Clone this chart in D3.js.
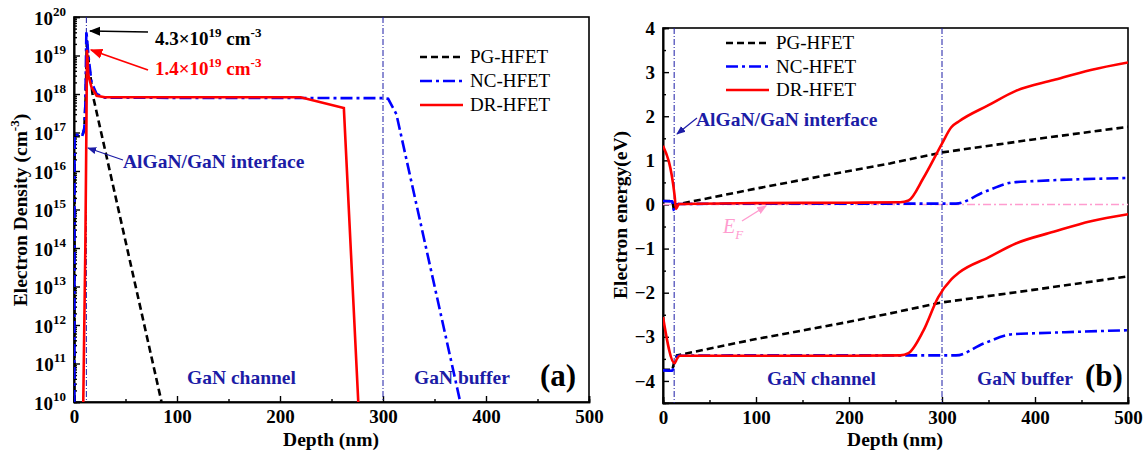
<!DOCTYPE html>
<html lang="en">
<head>
<meta charset="utf-8">
<title>Electron density and band diagram</title>
<script src="https://cdn.jsdelivr.net/npm/d3@7"></script>
<style>
  body { margin: 0; background: #fff; }
  svg text { font-family: "Liberation Serif", "Times New Roman", serif; }
</style>
</head>
<body>
<script>
// ---- data ----
var depthTicks = [0, 100, 200, 300, 400, 500];
var densityExps = [10, 11, 12, 13, 14, 15, 16, 17, 18, 19, 20];
var energyTicks = [-4, -3, -2, -1, 0, 1, 2, 3, 4];
var refDepths = [12, 300];

var seriesNames = ["PG-HFET", "NC-HFET", "DR-HFET"];

// (a) electron density, [depth nm, cm^-3]
var pgDensity = [[0.4, 1e10], [0.6, 8e16], [8, 8e16], [10, 1.2e17], [11.5, 1e18], [12.5, 2.5e19], [14, 8e18], [18, 1e18], [85, 1e10]];
var ncDensity = [[0.3, 1e10], [0.5, 9e16], [8, 8e16], [10, 1.3e17], [11, 5e17], [12, 4.3e19], [14, 1e19], [17, 2e18], [22, 1e18], [30, 8e17], [300, 7.8e17], [305, 7.5e17], [313, 3e17], [375, 1e10]];
var drDensity = [[9, 1e10], [11, 1e14], [12, 1e17], [12.6, 1.4e19], [14, 3e18], [17, 1.5e18], [22, 9e17], [30, 8.2e17], [220, 8.2e17], [262, 4.3e17], [276, 1e10]];

// (b) band edges, [depth nm, eV]
var pgEc = [[0, 0.08], [10, 0.08], [12, -0.15], [15, 0], [100, 0.36], [200, 0.76], [244, 0.93], [300, 1.18], [400, 1.48], [500, 1.76]];
var pgEv = [[0, -3.75], [10, -3.75], [12, -3.58], [15, -3.42], [100, -3.05], [200, -2.66], [244, -2.47], [300, -2.22], [400, -1.93], [500, -1.63]];
var ncEc = [[0, 0.08], [10, 0.07], [12, -0.15], [16, 0.01], [100, 0.02], [200, 0.02], [315, 0.02], [345, 0.28], [376, 0.5], [400, 0.53], [500, 0.6]];
var ncEv = [[0, -3.76], [10, -3.77], [12, -3.6], [16, -3.43], [100, -3.42], [200, -3.42], [315, -3.42], [345, -3.15], [376, -2.94], [400, -2.92], [500, -2.85]];
var drEc = [[0, 1.33], [12.5, 0.2], [14, -0.1], [17, 0.01], [100, 0.03], [200, 0.04], [255, 0.05], [264, 0.09], [280, 0.6], [300, 1.38], [310, 1.75], [318, 1.88], [350, 2.25], [380, 2.58], [420, 2.82], [460, 3.05], [500, 3.22]];
var drEv = [[0, -2.55], [12.5, -3.6], [15, -3.5], [18, -3.43], [100, -3.43], [200, -3.43], [255, -3.42], [264, -3.37], [280, -2.86], [296, -2.1], [310, -1.7], [318, -1.55], [350, -1.2], [380, -0.88], [420, -0.62], [460, -0.38], [500, -0.22]];
var fermiLevel = [[0, 0], [500, 0]];

// ---- layout ----
var width = 1148, height = 454;
var serif = '"Liberation Serif", "Times New Roman", serif';
var navy = "#1c1ca6";
var colors = { pg: "#000000", nc: "#0000ff", dr: "#ff0000" };
var dashes = { pg: "7,4", nc: "12,4,3,4", dr: null };

var svg = d3.select("body").append("svg").attr("width", width).attr("height", height);

var defs = svg.append("defs");
function marker(id, color) {
  defs.append("marker").attr("id", id)
    .attr("viewBox", "0 0 10 10").attr("refX", 9).attr("refY", 5)
    .attr("markerWidth", 7).attr("markerHeight", 7).attr("orient", "auto")
    .append("path").attr("d", "M0,1 L10,5 L0,9 Z").attr("fill", color);
}
marker("arrBlack", "#000");
marker("arrRed", "#ff0000");
marker("arrNavy", navy);
marker("arrPink", "#ff9ccf");

function clip(id, x0, y0, x1, y1) {
  defs.append("clipPath").attr("id", id).append("rect")
    .attr("x", x0).attr("y", y0).attr("width", x1 - x0).attr("height", y1 - y0);
}

// ================= panel (a) =================
var xa = d3.scaleLinear().domain([0, 500]).range([74, 589]);
var ya = d3.scaleLog().domain([1e10, 1e20]).range([402, 17]);
clip("clipA", 74, 17, 589, 402);

var gA = svg.append("g");

// x axis
gA.append("g").attr("transform", "translate(0,402)")
  .call(d3.axisBottom(xa).tickValues(d3.range(50, 500, 100)).tickSize(-3).tickFormat(""));
gA.append("g").attr("transform", "translate(0,402)")
  .call(d3.axisBottom(xa).tickValues(depthTicks).tickSize(-6).tickPadding(8));

// y axis (log) with minor ticks
var minorA = [];
densityExps.slice(0, -1).forEach(function (e) {
  for (var k = 2; k <= 9; k++) minorA.push(k * Math.pow(10, e));
});
gA.append("g").attr("transform", "translate(74,0)")
  .call(d3.axisLeft(ya).tickValues(minorA).tickSize(-3).tickFormat(""));
var yAxA = gA.append("g").attr("transform", "translate(74,0)")
  .call(d3.axisLeft(ya).tickValues(densityExps.map(function (e) { return Math.pow(10, e); }))
    .tickSize(-6).tickFormat(""));
yAxA.selectAll(".tick").each(function (d) {
  var t = d3.select(this).append("text").attr("x", -8).attr("y", 7)
    .attr("text-anchor", "end").attr("fill", "#000");
  t.append("tspan").text("10");
  t.append("tspan").attr("dy", -9).attr("font-size", 13).text(Math.round(Math.log10(d)));
});

gA.append("rect").attr("x", 74).attr("y", 17).attr("width", 515).attr("height", 385)
  .attr("fill", "none").attr("stroke", "#000").attr("stroke-width", 1.6);

// reference lines
gA.selectAll(".ref").data(refDepths).enter().append("line")
  .attr("x1", function (d) { return xa(d); }).attr("x2", function (d) { return xa(d); })
  .attr("y1", 17).attr("y2", 402)
  .attr("stroke", navy).attr("stroke-width", 1).attr("stroke-dasharray", "6,2,1,2");

var lineA = d3.line().x(function (d) { return xa(d[0]); }).y(function (d) { return ya(d[1]); });
var curvesA = [["pg", pgDensity], ["nc", ncDensity], ["dr", drDensity]];
gA.append("g").attr("clip-path", "url(#clipA)").selectAll("path").data(curvesA).enter().append("path")
  .attr("d", function (d) { return lineA(d[1]); })
  .attr("fill", "none")
  .attr("stroke", function (d) { return colors[d[0]]; })
  .attr("stroke-width", 2.6)
  .attr("stroke-dasharray", function (d) { return dashes[d[0]]; });

// ================= panel (b) =================
var xb = d3.scaleLinear().domain([0, 500]).range([663, 1128]);
var yb = d3.scaleLinear().domain([-4.5, 4]).range([403, 28]);
clip("clipB", 663, 28, 1128, 403);

var gB = svg.append("g");
gB.append("g").attr("transform", "translate(0,403)")
  .call(d3.axisBottom(xb).tickValues(d3.range(50, 500, 100)).tickSize(-3).tickFormat(""));
gB.append("g").attr("transform", "translate(0,403)")
  .call(d3.axisBottom(xb).tickValues(depthTicks).tickSize(-6).tickPadding(8));
gB.append("g").attr("transform", "translate(663,0)")
  .call(d3.axisLeft(yb).tickValues(d3.range(-3.5, 4, 1)).tickSize(-3).tickFormat(""));
gB.append("g").attr("transform", "translate(663,0)")
  .call(d3.axisLeft(yb).tickValues(energyTicks).tickSize(-6).tickPadding(8).tickFormat(d3.format("d")));

gB.append("rect").attr("x", 663).attr("y", 28).attr("width", 465).attr("height", 375)
  .attr("fill", "none").attr("stroke", "#000").attr("stroke-width", 1.6);

var lineSmooth = d3.line().x(function (d) { return xb(d[0]); }).y(function (d) { return yb(d[1]); })
  .curve(d3.curveMonotoneX);
var lineStraight = d3.line().x(function (d) { return xb(d[0]); }).y(function (d) { return yb(d[1]); });
var plotB = gB.append("g").attr("clip-path", "url(#clipB)");

plotB.append("path").attr("d", lineStraight(fermiLevel))
  .attr("fill", "none").attr("stroke", "#ff9ccf").attr("stroke-width", 1.4).attr("stroke-dasharray", "8,3,2,3");

plotB.selectAll(".ref").data(refDepths).enter().append("line")
  .attr("x1", function (d) { return xb(d); }).attr("x2", function (d) { return xb(d); })
  .attr("y1", 28).attr("y2", 403)
  .attr("stroke", navy).attr("stroke-width", 1).attr("stroke-dasharray", "6,2,1,2");

var curvesB = [["pg", pgEc], ["pg", pgEv], ["nc", ncEc], ["nc", ncEv], ["dr", drEc], ["dr", drEv]];
plotB.selectAll(".band").data(curvesB).enter().append("path")
  .attr("d", function (d) { return d[0] === "pg" ? lineStraight(d[1]) : lineSmooth(d[1]); })
  .attr("fill", "none")
  .attr("stroke", function (d) { return colors[d[0]]; })
  .attr("stroke-width", 2.6)
  .attr("stroke-dasharray", function (d) { return dashes[d[0]]; });

// ---- tick label fonts ----
svg.selectAll(".tick text").attr("font-family", serif).attr("font-size", 19).attr("font-weight", "bold").attr("fill", "#000");
svg.selectAll(".domain").attr("stroke-width", 1.6);
svg.selectAll(".tick line").attr("stroke-width", 1.4);

// ---- axis titles ----
function boldText(x, y, str, size, color, anchor) {
  return svg.append("text").attr("x", x).attr("y", y).attr("font-size", size)
    .attr("font-weight", "bold").attr("fill", color || "#000")
    .attr("text-anchor", anchor || "start").text(str);
}
boldText(331, 446, "Depth (nm)", 19.5, "#000", "middle");
boldText(895, 446, "Depth (nm)", 19.5, "#000", "middle");

var yt = svg.append("text").attr("transform", "translate(27,210) rotate(-90)")
  .attr("text-anchor", "middle").attr("font-size", 19.5).attr("font-weight", "bold");
yt.append("tspan").text("Electron Density (cm");
yt.append("tspan").attr("dy", -8).attr("font-size", 13).text("-3");
yt.append("tspan").attr("dy", 8).text(")");

svg.append("text").attr("transform", "translate(627,215) rotate(-90)")
  .attr("text-anchor", "middle").attr("font-size", 19.5).attr("font-weight", "bold")
  .text("Electron energy(eV)");

// ---- legends ----
function legend(x0, y0, gap) {
  var keys = ["pg", "nc", "dr"];
  keys.forEach(function (k, i) {
    var y = y0 + i * gap;
    svg.append("line").attr("x1", x0).attr("x2", x0 + 43).attr("y1", y).attr("y2", y)
      .attr("stroke", colors[k]).attr("stroke-width", 2.4).attr("stroke-dasharray", dashes[k]);
    svg.append("text").attr("x", x0 + 50).attr("y", y + 6).attr("font-size", 19).text(seriesNames[i]);
  });
}
legend(420, 57, 24);
legend(726, 43, 23.5);

// ---- annotations panel (a) ----
var a1 = svg.append("text").attr("x", 155).attr("y", 45).attr("font-size", 19).attr("font-weight", "bold");
a1.append("tspan").text("4.3×10");
a1.append("tspan").attr("dy", -8).attr("font-size", 13).text("19");
a1.append("tspan").attr("dy", 8).text(" cm");
a1.append("tspan").attr("dy", -8).attr("font-size", 13).text("-3");
svg.append("line").attr("x1", 148).attr("y1", 32).attr("x2", 90).attr("y2", 31)
  .attr("stroke", "#000").attr("stroke-width", 1.6).attr("marker-end", "url(#arrBlack)");

var a2 = svg.append("text").attr("x", 155).attr("y", 75).attr("font-size", 19).attr("font-weight", "bold").attr("fill", "#ff0000");
a2.append("tspan").text("1.4×10");
a2.append("tspan").attr("dy", -8).attr("font-size", 13).text("19");
a2.append("tspan").attr("dy", 8).text(" cm");
a2.append("tspan").attr("dy", -8).attr("font-size", 13).text("-3");
svg.append("line").attr("x1", 148).attr("y1", 70).attr("x2", 91).attr("y2", 50)
  .attr("stroke", "#ff0000").attr("stroke-width", 1.8).attr("marker-end", "url(#arrRed)");

boldText(123, 168, "AlGaN/GaN interface", 19.5, navy);
svg.append("line").attr("x1", 123).attr("y1", 160).attr("x2", 88).attr("y2", 148)
  .attr("stroke", navy).attr("stroke-width", 1.3).attr("marker-end", "url(#arrNavy)");

boldText(187, 384, "GaN channel", 19.5, navy);
boldText(414, 384, "GaN buffer", 19.5, navy);
boldText(540, 386, "(a)", 31, "#000");

// ---- annotations panel (b) ----
boldText(696, 126, "AlGaN/GaN interface", 19.5, navy);
svg.append("line").attr("x1", 697).attr("y1", 118).attr("x2", 677).attr("y2", 134)
  .attr("stroke", navy).attr("stroke-width", 1.3).attr("marker-end", "url(#arrNavy)");

var ef = svg.append("text").attr("x", 723).attr("y", 233).attr("font-size", 20)
  .attr("font-style", "italic").attr("fill", "#ff9ccf");
ef.append("tspan").text("E");
ef.append("tspan").attr("dy", 6).attr("font-size", 13).text("F");
svg.append("line").attr("x1", 742).attr("y1", 221).attr("x2", 766).attr("y2", 206)
  .attr("stroke", "#ff9ccf").attr("stroke-width", 1.4).attr("marker-end", "url(#arrPink)");

boldText(767, 385, "GaN channel", 19.5, navy);
boldText(977, 385, "GaN buffer", 19.5, navy);
boldText(1085, 386, "(b)", 31, "#000");
</script>
</body>
</html>
